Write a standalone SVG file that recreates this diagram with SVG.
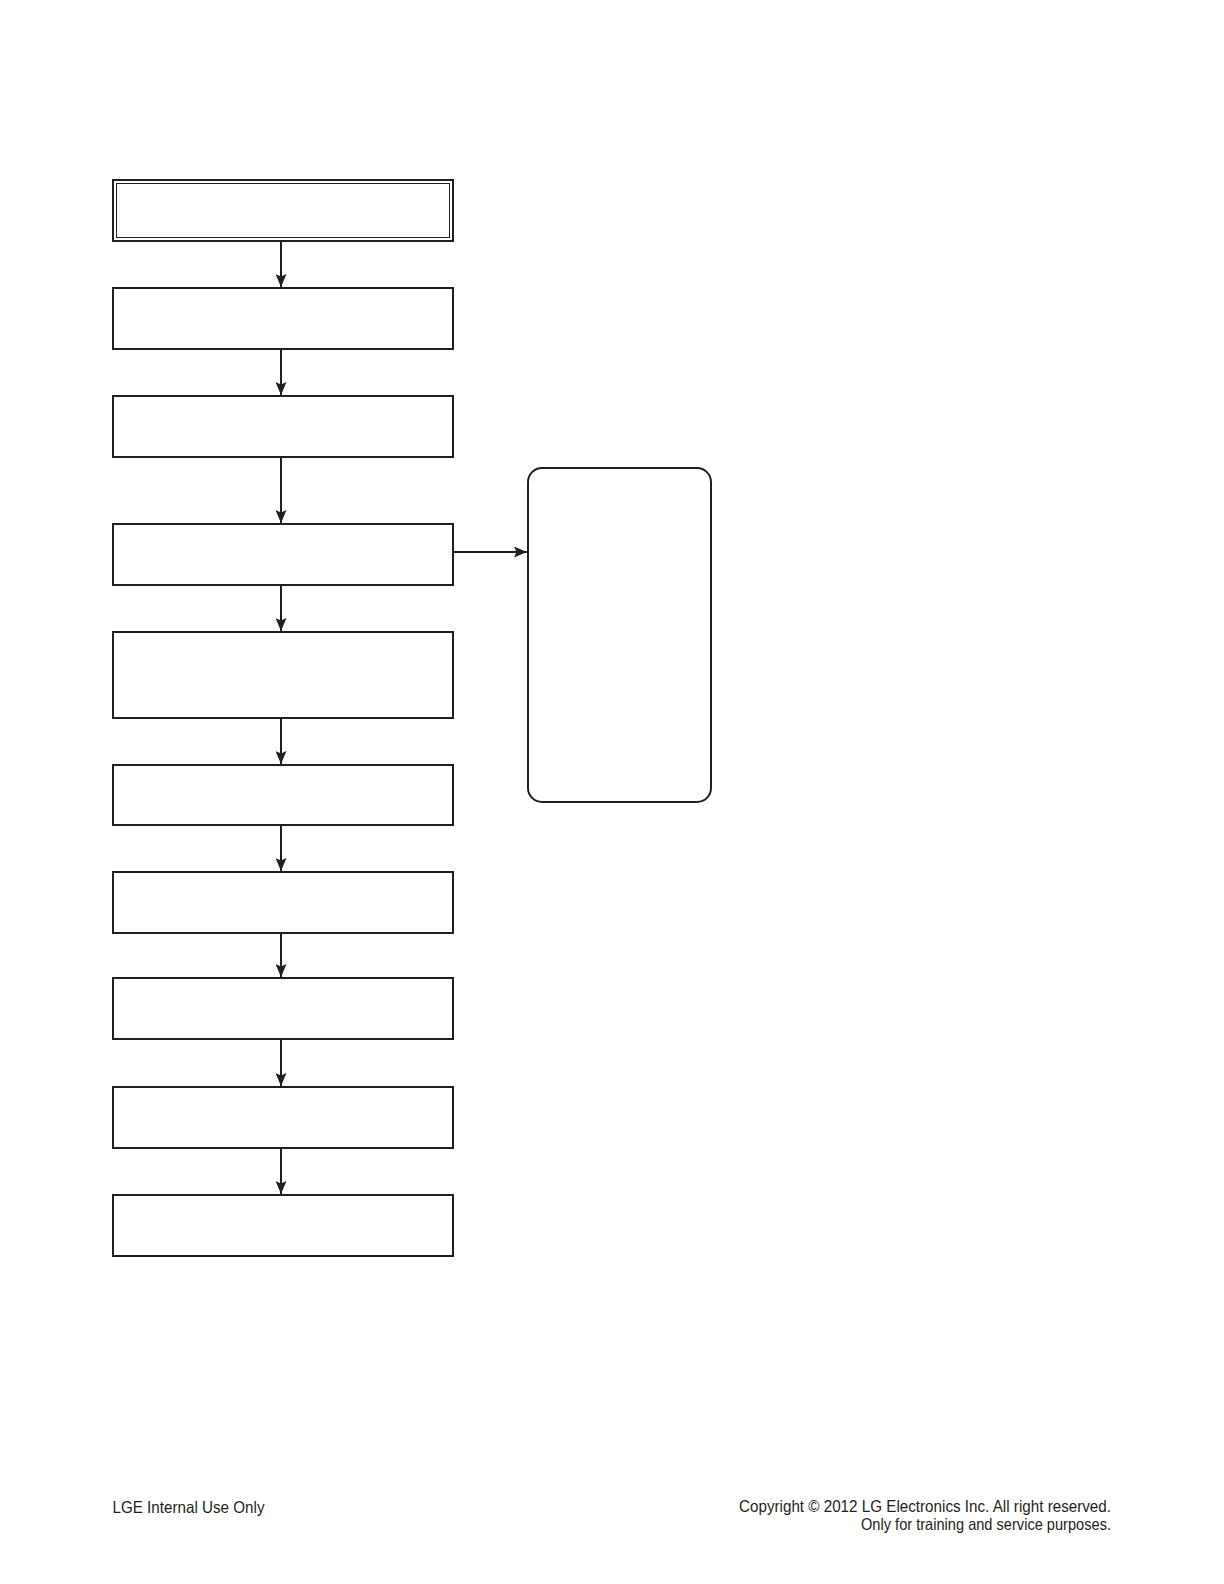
<svg xmlns="http://www.w3.org/2000/svg" width="1224" height="1584" viewBox="0 0 1224 1584">
<defs>
<marker id="ah" viewBox="0 0 13 11" refX="13" refY="5.5" markerWidth="13" markerHeight="11" markerUnits="userSpaceOnUse" orient="auto">
<path d="M0,0 L13,5.5 L0,11 L2.5,5.5 Z" fill="#231f20"/>
</marker>
<style>
.box{fill:#fff;stroke:#231f20;stroke-width:2}
.thin{fill:none;stroke:#231f20;stroke-width:1}
.conn{stroke:#231f20;stroke-width:2;fill:none;marker-end:url(#ah)}
.ft{font-family:"Liberation Sans",Arial,sans-serif;font-size:16.5px;fill:#231f20}
</style>
</defs>
<rect width="1224" height="1584" fill="#fff"/>
<g id="connectors">
<line class="conn" x1="281" y1="241" x2="281" y2="287"/>
<line class="conn" x1="281" y1="349" x2="281" y2="395"/>
<line class="conn" x1="281" y1="457" x2="281" y2="523"/>
<line class="conn" x1="281" y1="585" x2="281" y2="631"/>
<line class="conn" x1="281" y1="718" x2="281" y2="764"/>
<line class="conn" x1="281" y1="825" x2="281" y2="871"/>
<line class="conn" x1="281" y1="933" x2="281" y2="977"/>
<line class="conn" x1="281" y1="1039" x2="281" y2="1086"/>
<line class="conn" x1="281" y1="1148" x2="281" y2="1194"/>
<line class="conn" x1="453" y1="552" x2="527" y2="552"/>
</g>
<g id="n1"><rect class="box" x="113" y="180" width="340" height="61"/><rect class="thin" x="116.5" y="183.5" width="333" height="54"/></g>
<g id="n2"><rect class="box" x="113" y="288" width="340" height="61"/></g>
<g id="n3"><rect class="box" x="113" y="396" width="340" height="61"/></g>
<g id="n4"><rect class="box" x="113" y="524" width="340" height="61"/></g>
<g id="n5"><rect class="box" x="113" y="632" width="340" height="86"/></g>
<g id="n6"><rect class="box" x="113" y="765" width="340" height="60"/></g>
<g id="n7"><rect class="box" x="113" y="872" width="340" height="61"/></g>
<g id="n8"><rect class="box" x="113" y="978" width="340" height="61"/></g>
<g id="n9"><rect class="box" x="113" y="1087" width="340" height="61"/></g>
<g id="n10"><rect class="box" x="113" y="1195" width="340" height="61"/></g>
<g id="n11"><rect class="box" x="528" y="468" width="183" height="334" rx="14" ry="14"/></g>
<g id="footer">
<text class="ft" x="112.5" y="1513" textLength="152" lengthAdjust="spacingAndGlyphs">LGE Internal Use Only</text>
<text class="ft" x="1111" y="1512" text-anchor="end" textLength="372" lengthAdjust="spacingAndGlyphs">Copyright © 2012 LG Electronics Inc. All right reserved.</text>
<text class="ft" x="1111" y="1530" text-anchor="end" textLength="250" lengthAdjust="spacingAndGlyphs">Only for training and service purposes.</text>
</g>
</svg>
